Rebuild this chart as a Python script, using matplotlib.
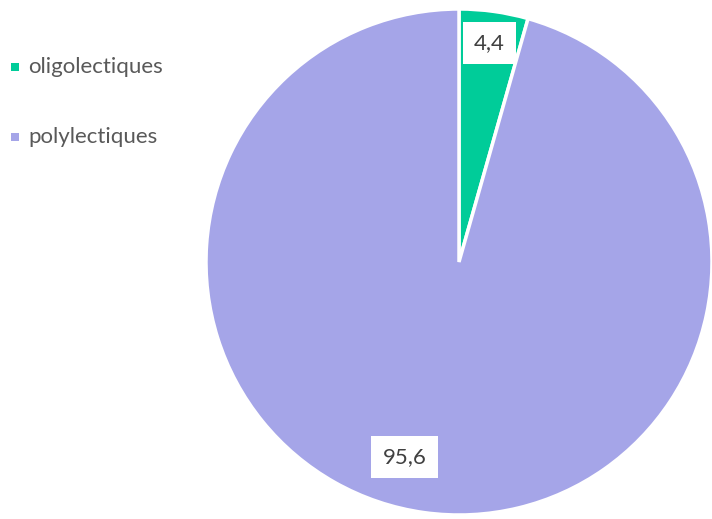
import numpy as np
import matplotlib.pyplot as plt
from matplotlib.patches import Rectangle

# parts des espèces
categories = ['oligolectiques', 'polylectiques']
values = [4.4, 95.6]
value_labels = ['4,4', '95,6']
colors = ['#00CC99', '#A5A5E8']

plt.rcParams['font.family'] = ['Lato', 'DejaVu Sans']

fig = plt.figure(figsize=(7.12, 5.19), dpi=100)
W, H = 712, 519
cx, cy, r = 459, 257, 253
ax = fig.add_axes([(cx - r) / W, (cy - r) / H, 2 * r / W, 2 * r / H])

wedges, _ = ax.pie(values, colors=colors, startangle=90, counterclock=False,
                   radius=1.0,
                   wedgeprops=dict(edgecolor='white', linewidth=2.5))
ax.set_xlim(-1, 1)
ax.set_ylim(-1, 1)
ax.set_aspect('equal')
ax.axis('off')

# étiquettes de valeur
label_r = [0.875, 0.80]
label_shift = [0, -7.7]
for w, lab, lr, sh in zip(wedges, value_labels, label_r, label_shift):
    ang = np.deg2rad((w.theta1 + w.theta2) / 2 + sh)
    ax.text(lr * np.cos(ang), lr * np.sin(ang), lab, ha='center', va='center',
            fontsize=16, color='#404040',
            bbox=dict(boxstyle='square,pad=0.5', fc='white', ec='none'))

# légende
for i, (cat, col) in enumerate(zip(categories, colors)):
    y = 1 - (67 + 70 * i) / H
    fig.add_artist(Rectangle((11 / W, y - 4 / H), 8 / W, 8 / H,
                             transform=fig.transFigure, fc=col, ec='none'))
    fig.text(28 / W, y, cat, ha='left', va='center', fontsize=16, color='#595959')

fig.savefig('out.png', dpi=100)
